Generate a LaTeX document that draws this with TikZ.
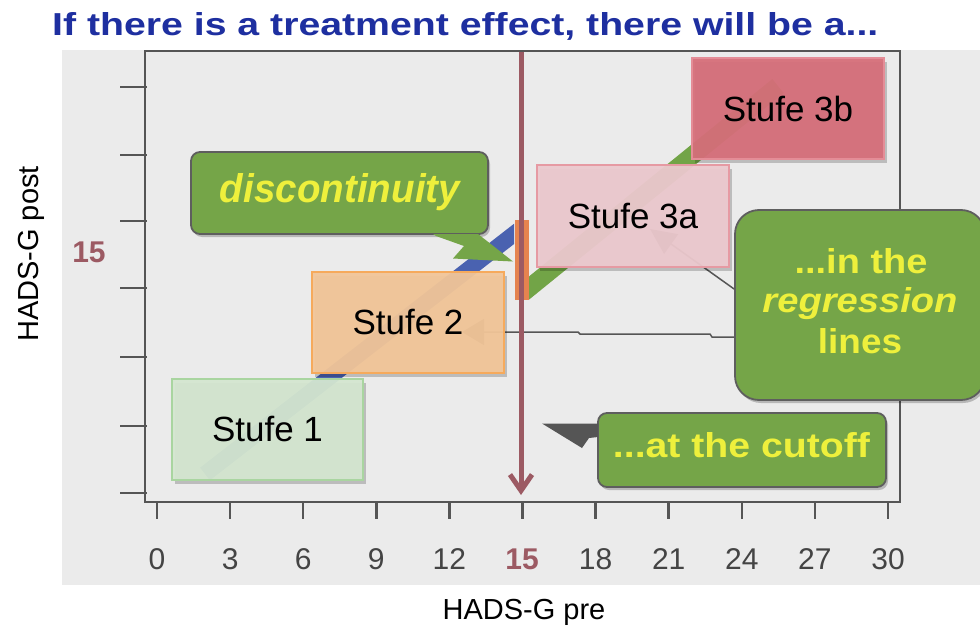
\documentclass[tikz,border=0pt]{standalone}
\usepackage{fontspec}
\setmainfont{Liberation Sans}
\usepackage{graphicx}
\usetikzlibrary{arrows.meta,shadows,calc}
\definecolor{bgpanel}{HTML}{EBEBEB}
\definecolor{framec}{HTML}{555555}
\definecolor{tickgray}{HTML}{555555}
\definecolor{labelgray}{HTML}{444444}
\definecolor{titleblue}{HTML}{1E2FA0}
\definecolor{cutred}{HTML}{9C5A63}
\definecolor{bandblue}{HTML}{4A62B0}
\definecolor{bandgreen}{HTML}{72A447}
\definecolor{barorange}{HTML}{E5834F}
\definecolor{calloutgreen}{HTML}{75A548}
\definecolor{calloutborder}{HTML}{5E5E5E}
\definecolor{yellowtext}{HTML}{EEF03C}
\definecolor{sonefill}{HTML}{D4E6D0}
\definecolor{sonedraw}{HTML}{A9D5A0}
\definecolor{stwofill}{HTML}{F2C699}
\definecolor{stwodraw}{HTML}{F6AA5C}
\definecolor{sthreeafill}{HTML}{ECC9CE}
\definecolor{sthreeadraw}{HTML}{E69AA3}
\definecolor{sthreebfill}{HTML}{D66F7A}
\definecolor{sthreebdraw}{HTML}{E48D97}
\definecolor{ptrgray}{HTML}{555555}
\tikzset{
  stufebox/.style={draw, line width=1.8pt, minimum width=191pt, minimum height=101pt,
    inner sep=0pt, font=\fontsize{35}{40}\selectfont, fill opacity=0.95, text opacity=1,
    drop shadow={shadow xshift=3pt, shadow yshift=-4pt, opacity=0.2, fill=black}},
  calloutbox/.style={draw=calloutborder, fill=calloutgreen, line width=1.8pt, inner sep=0pt,
    drop shadow={shadow xshift=2pt, shadow yshift=-3pt, opacity=0.22, fill=black}},
  callouttext/.style={text=yellowtext, inner sep=0pt, anchor=base},
  ptr/.style={draw=ptrgray, line width=1.5pt},
  tickmark/.style={draw=tickgray, line width=2.5pt},
  ticklabel/.style={text=labelgray, font=\fontsize{30}{32}\selectfont, anchor=base, inner sep=0pt},
  axislabel/.style={text=black, font=\fontsize{29}{32}\selectfont, anchor=base, inner sep=0pt},
  redlabel/.style={text=cutred, font=\fontsize{30}{32}\selectfont\bfseries, anchor=base, inner sep=0pt},
}
\begin{document}
\begin{tikzpicture}[x=1pt,y=-1pt]
\useasboundingbox (0,0) rectangle (980,629);
\fill[white] (0,0) rectangle (980,629);
\fill[bgpanel] (62,50) rectangle (985,585);

% title
\node[anchor=base west, inner sep=0pt, text=titleblue] (title) at (52,35)
  {\resizebox{826pt}{23pt}{\bfseries If there is a treatment effect, there will be a...}};

% frame
\draw[framec, line width=2.2pt] (145,51) rectangle (900,502);

% ticks
\foreach \y in {87,155,221,288,357,426,493} \draw[tickmark] (120,\y) -- (147,\y);
\foreach \k in {0,...,10} {
  \pgfmathsetmacro{\xx}{157+73.1*\k}
  \draw[tickmark] (\xx,502) -- (\xx,519);
}
\foreach \v in {0,3,6,9,12,18,21,24,27,30} {
  \pgfmathsetmacro{\xx}{157+24.367*\v}
  \node[ticklabel] (xl\v) at (\xx,569) {\v};
}
\node[redlabel] (xlcut) at (522,569) {15};
\node[redlabel] (ylcut) at (89,262) {15};

% axis labels
\node[axislabel] (xlab) at (524,619) {HADS-G pre};
\node[axislabel, rotate=90] (ylab) at (38,254) {HADS-G post};

% regression bands
\begin{scope}
  \clip (0,0) rectangle (514,629);
  \draw[bandblue, line width=16pt] (205,474) -- (530,221.5);
\end{scope}
\begin{scope}
  \clip (529,0) rectangle (980,629);
  \draw[bandgreen, line width=18pt] (515,299.4) -- (778,86);
\end{scope}
\fill[barorange] (515,220) rectangle (529,300);

% callouts
\node[calloutbox, rounded corners=9pt, minimum width=297pt, minimum height=82pt] (disc) at (339.5,193) {};
\fill[calloutgreen] (433,234) -- (478,234) -- (513,261.5) -- (453,258.5) -- (464,246) -- (436,236) -- cycle;
\node[callouttext] (disct) at (340,202) {\resizebox{240pt}{29pt}{\bfseries\itshape discontinuity}};

\node[calloutbox, rounded corners=24pt, minimum width=250pt, minimum height=190pt] (reg) at (860,305) {};
\node[callouttext] (regt1) at (861,273) {\resizebox{133pt}{25pt}{\bfseries ...in the}};
\node[callouttext] (regt2) at (860,312) {\resizebox{195pt}{25pt}{\bfseries\itshape regression}};
\node[callouttext] (regt3) at (860,353) {\resizebox{84pt}{25pt}{\bfseries lines}};

\node[calloutbox, rounded corners=9pt, minimum width=288pt, minimum height=74pt] (cut) at (742,450) {};
\fill[ptrgray] (542,423.5) -- (598,423.5) -- (598,437) -- (589,438) -- (582,448) -- cycle;
\node[callouttext] (cutt) at (741.5,457) {\resizebox{257pt}{25pt}{\bfseries ...at the cutoff}};

% pointers from the regression callout (under the boxes)
\coordinate (tipa) at (650,229);
\coordinate (tipb) at (462,332);
\draw[ptr, -{Triangle[length=26pt,width=24pt]}] ($(reg.west)+(0,-16)$) -- (tipa);
\draw[ptr, -{Triangle[length=22pt,width=26pt]}] ($(reg.west)+(0,32)$) -- (712,337) -- (710,334) -- (580,334) -- (578,332) -- (tipb);

% Stufe boxes
\node[stufebox, fill=sonefill, draw=sonedraw] (s1) at (267.5,429.5) {Stufe 1};
\node[stufebox, fill=stwofill, draw=stwodraw, minimum width=192pt] (s2) at (408,322.5) {Stufe 2};
\node[stufebox, fill=sthreeafill, draw=sthreeadraw, minimum width=192pt, minimum height=102pt] (s3a) at (633,216) {Stufe 3a};
\node[stufebox, fill=sthreebfill, draw=sthreebdraw, minimum width=192pt] (s3b) at (788,108.5) {Stufe 3b};

% cutoff line
\coordinate (cuttop) at (521,52);
\coordinate (cutbot) at (521,495);
\draw[cutred, line width=5pt, -{Straight Barb[length=16pt,width=22pt]}] (cuttop) -- (cutbot);
\end{tikzpicture}
\end{document}
